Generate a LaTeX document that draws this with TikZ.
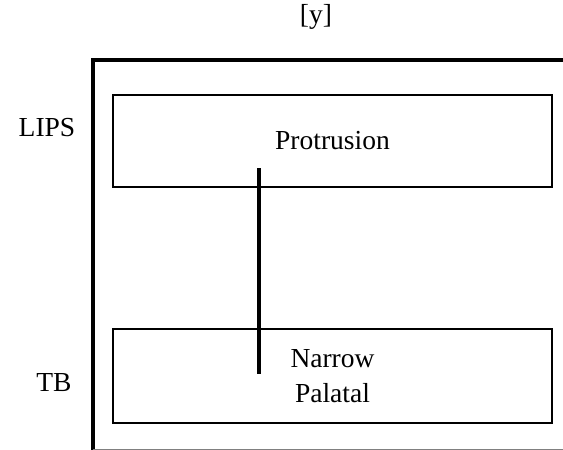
\documentclass[tikz,border=0pt]{standalone}
\usepackage{fontspec}
\setmainfont{Liberation Serif}
\usetikzlibrary{positioning}

\begin{document}
\begin{tikzpicture}[
    x=1pt, y=-1pt,
    font=\fontsize{27.5}{35}\selectfont,
    tier/.style={rectangle, draw, line width=2pt, minimum width=439pt, minimum height=92pt, inner sep=0pt, align=center},
    frame/.style={draw, line width=4pt},
    gesture/.style={draw, line width=4pt}
]
    \useasboundingbox (0,0) rectangle (563,450);
    \node (seg) at (316,17) {[y]};
    \node [tier] (lips) at (332.5,141) {Protrusion};
    \node [tier, minimum height=94pt] (tb) at (332.5,376) {Narrow\\Palatal};
    \node (lipslabel) at (47,128) {LIPS};
    \node (tblabel) at (54,383) {TB};

    \coordinate (corner) at (93,60);
    \coordinate (frameend) at (563,60);
    \coordinate (framefoot) at (93,450);
    \path [frame] (framefoot) -- (corner) -- (frameend);
    \draw [gray, line width=1pt] (93,449.5) -- (563,449.5);

    \coordinate (gtop) at (259,168);
    \coordinate (gbot) at (259,374);
    \path [gesture] (gtop) -- (gbot);
\end{tikzpicture}
\end{document}
